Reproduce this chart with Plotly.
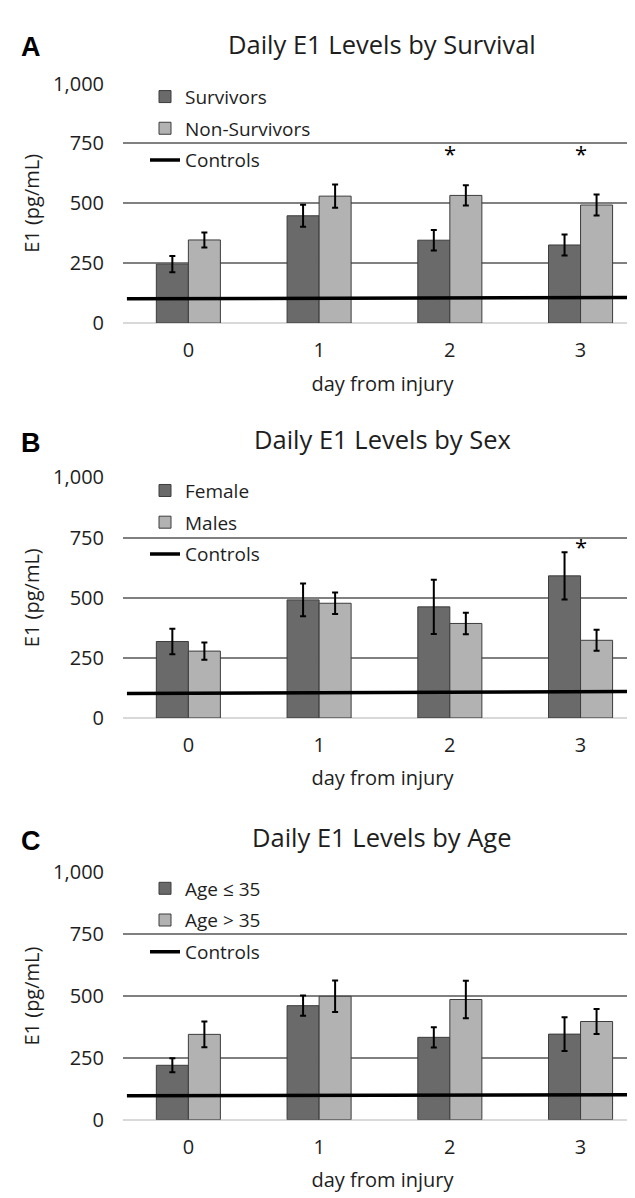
import plotly.graph_objects as go

# ---------------- data ----------------
days = [0, 1, 2, 3]
day_labels = ["0", "1", "2", "3"]

# Panel A: survival
survivors = [246, 448, 346, 326]
survivors_err = [34, 46, 43, 44]
non_survivors = [347, 530, 533, 493]
non_survivors_err = [31, 49, 42, 44]
controls_a = [101, 107]
sig_days_a = [2, 3]
sig_y_a = [712, 712]

# Panel B: sex
female = [318, 491, 462, 591]
female_err = [53, 68, 113, 98]
males = [278, 477, 393, 323]
males_err = [36, 45, 45, 44]
controls_b = [102, 110]
sig_days_b = [3]
sig_y_b = [714]

# Panel C: age
age_young = [220, 461, 333, 346]
age_young_err = [28, 41, 41, 68]
age_old = [345, 499, 486, 397]
age_old_err = [52, 64, 76, 51]
controls_c = [97, 101]

controls_x = [-0.47, 3.44]
y_ticks = [0, 250, 500, 750, 1000]

panels = [
    dict(letter="A", title="Daily E1 Levels by Survival",
         names=["Survivors", "Non-Survivors"],
         s1=survivors, e1=survivors_err, s2=non_survivors, e2=non_survivors_err,
         ctrl=controls_a, sigx=sig_days_a, sigy=sig_y_a,
         top=63, bottom=308, title_y=22, legend_top=57, gap=4),
    dict(letter="B", title="Daily E1 Levels by Sex",
         names=["Female", "Males"],
         s1=female, e1=female_err, s2=males, e2=males_err,
         ctrl=controls_b, sigx=sig_days_b, sigy=sig_y_b,
         top=466, bottom=712, title_y=427, legend_top=460, gap=4),
    dict(letter="C", title="Daily E1 Levels by Age",
         names=["Age \u2264 35", "Age > 35"],
         s1=age_young, e1=age_young_err, s2=age_old, e2=age_old_err,
         ctrl=controls_c, sigx=[], sigy=[],
         top=870, bottom=1123, title_y=834, legend_top=867, gap=4),
]

W, H = 635, 1198
FONT = "Open Sans, Noto Sans, sans-serif"
DARK = "#6a6a6a"
LIGHT = "#b2b2b2"
EDGE = "#3c3c3c"
TXT = "#1e1e1e"

fig = go.Figure()
annotations = []
layout_axes = {}

for i, p in enumerate(panels):
    n = "" if i == 0 else str(i + 1)
    xa, ya = "x" + n, "y" + n
    lg = "legend" + n
    err_style = dict(type="data", thickness=2, width=3, color="black")
    fig.add_trace(go.Bar(
        x=days, y=p["s1"], name=p["names"][0], xaxis=xa, yaxis=ya, legend=lg,
        legendgroup=f"g{i}a",
        marker=dict(color=DARK, line=dict(color=EDGE, width=1)),
        error_y=dict(array=p["e1"], **err_style)))
    fig.add_trace(go.Bar(
        x=days, y=p["s2"], name=p["names"][1], xaxis=xa, yaxis=ya, legend=lg,
        legendgroup=f"g{i}b",
        marker=dict(color=LIGHT, line=dict(color=EDGE, width=1)),
        error_y=dict(array=p["e2"], **err_style)))
    fig.add_trace(go.Scatter(
        x=controls_x, y=p["ctrl"], name="Controls", mode="lines",
        xaxis=xa, yaxis=ya, legend=lg, legendgroup=f"g{i}c",
        line=dict(color="black", width=3.5)))

    dom = [1 - p["bottom"] / H, 1 - p["top"] / H]
    layout_axes["xaxis" + n] = dict(
        domain=[115 / W, 634 / W], range=[-0.5, 3.47], anchor=ya,
        tickvals=days, ticktext=day_labels, showgrid=False, zeroline=False,
        showline=False, ticks="", tickfont=dict(size=20, color=TXT),
        ticklabelstandoff=13,
        title=dict(text="day from injury", font=dict(size=20, color=TXT),
                   standoff=14))
    layout_axes["yaxis" + n] = dict(
        domain=dom, range=[0, 1000], anchor=xa,
        tickvals=y_ticks, tickformat=",", showgrid=True,
        gridcolor="#808080", gridwidth=1.5,
        zeroline=True, zerolinecolor="#d9d9d9", zerolinewidth=2,
        showline=False, ticks="", tickfont=dict(size=20, color=TXT),
        ticklabelstandoff=18,
        title=dict(text="E1 (pg/mL)", font=dict(size=20, color=TXT),
                   standoff=8))
    layout_axes[lg] = dict(
        x=137 / W, y=1 - p["legend_top"] / H, xref="paper", yref="paper",
        xanchor="left", yanchor="top", bgcolor="rgba(0,0,0,0)",
        font=dict(size=19, color=TXT, family=FONT), tracegroupgap=p["gap"],
        itemwidth=30)

    annotations.append(dict(
        text=p["title"], x=374 / W, y=1 - p["title_y"] / H, xref="paper",
        yref="paper", xanchor="center", yanchor="middle", showarrow=False,
        font=dict(size=25.5, color=TXT, family=FONT)))
    annotations.append(dict(
        text="<b>" + p["letter"] + "</b>", x=11 / W,
        y=1 - (p["title_y"] + 4) / H, xref="paper", yref="paper",
        xanchor="left", yanchor="middle", showarrow=False,
        font=dict(size=27, color="black", family="Liberation Sans, Arial")))
    for sx, sy in zip(p["sigx"], p["sigy"]):
        annotations.append(dict(
            text="*", x=sx, y=sy, xref=xa, yref=ya, showarrow=False,
            xanchor="center", yanchor="middle",
            font=dict(size=22, color="black", family=FONT)))

fig.update_layout(
    width=W, height=H, margin=dict(l=0, r=0, t=0, b=0),
    paper_bgcolor="white", plot_bgcolor="white",
    font=dict(family=FONT, color=TXT),
    barmode="group", bargap=0.51, bargroupgap=0,
    annotations=annotations, **layout_axes)

fig.write_html("out.html")
